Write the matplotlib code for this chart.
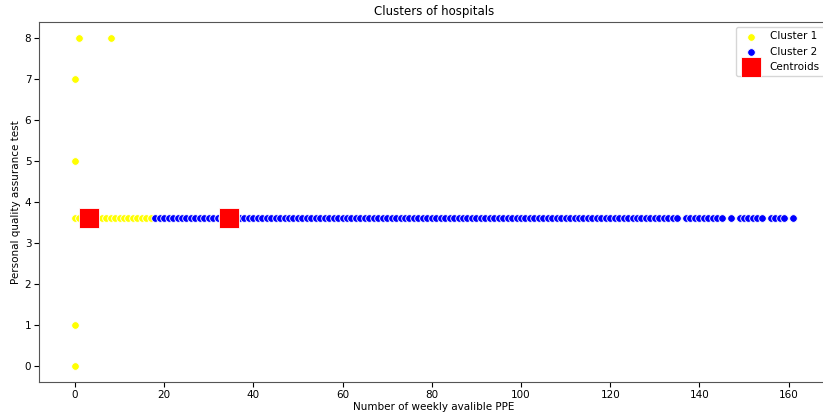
import matplotlib.pyplot as plt
import numpy as np

Y_FILL = 3.62

# cluster 1 (yellow)
c1_x = [1, 8, 0, 0, 0, 0,
        0, 1, 2, 3, 4, 5, 6, 7, 8, 9, 10, 11, 12, 13, 14, 15, 16, 17]
c1_y = [8, 8, 7, 5, 1, 0] + [Y_FILL] * 18

# cluster 2 (blue)
c2_x = (list(range(18, 136)) + list(range(137, 146)) + [147]
        + list(range(149, 155)) + list(range(156, 160)) + [161])
c2_y = [Y_FILL] * len(c2_x)

centroid_x = [3.1, 34.6]
centroid_y = [Y_FILL, Y_FILL]

plt.rcParams["font.size"] = 7.5

fig = plt.figure(figsize=(8.23, 4.15), dpi=100)
ax = fig.add_axes([39 / 823, 1 - 382 / 415, 790 / 823, 360 / 415])

ax.scatter(c1_x, c1_y, s=30, c="yellow", edgecolors="white",
           linewidths=0.6, label="Cluster 1", zorder=2)
ax.scatter(c2_x, c2_y, s=30, c="blue", edgecolors="white",
           linewidths=0.6, label="Cluster 2", zorder=2)
ax.scatter(centroid_x, centroid_y, s=200, c="red", marker="s",
           edgecolors="white", linewidths=0.6, label="Centroids", zorder=3)

ax.set_xlim(-8.05, 169.05)
ax.set_ylim(-0.4, 8.4)
ax.set_xticks(np.arange(0, 161, 20))
ax.set_yticks(np.arange(0, 9, 1))
ax.tick_params(axis="both", pad=2)
for sp in ax.spines.values():
    sp.set_color("#555555")

ax.set_title("Clusters of hospitals", fontsize=8.5, pad=5)
ax.set_xlabel("Number of weekly avalible PPE", labelpad=1.5)
ax.set_ylabel("Personal quality assurance test", labelpad=3)
ax.legend(loc="upper right")

fig.savefig("out.png", dpi=100)
